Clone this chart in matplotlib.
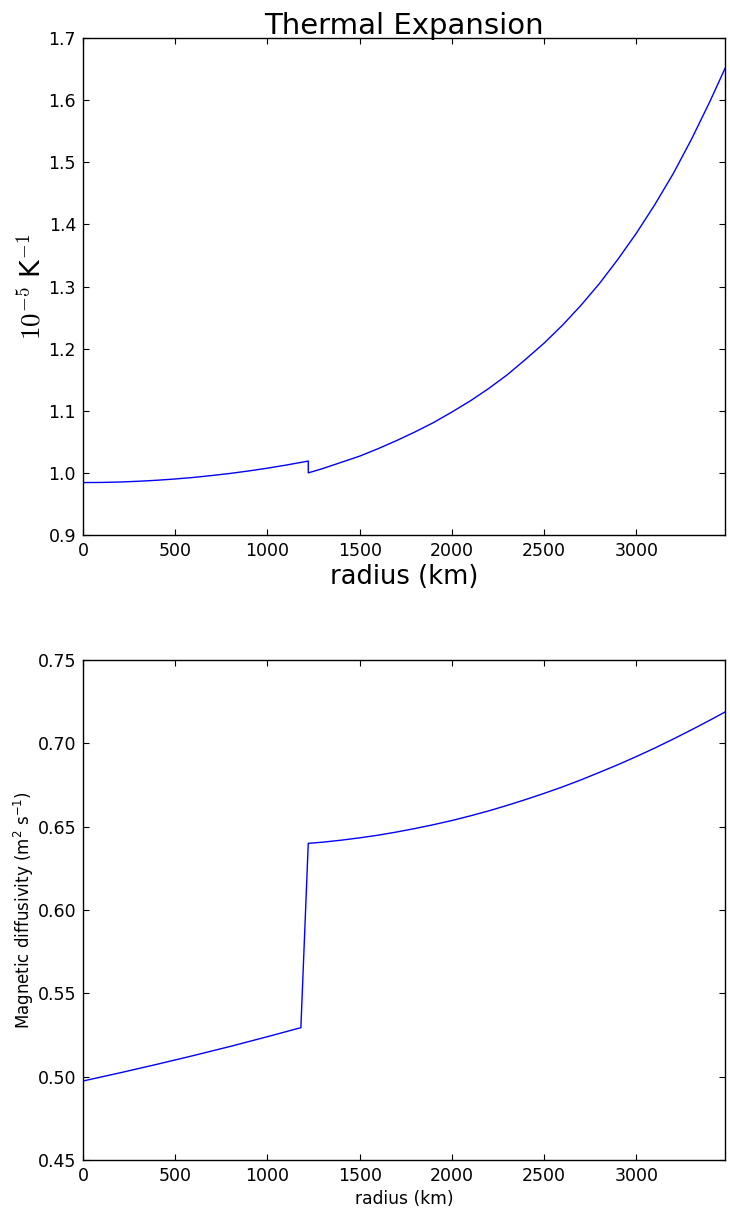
import matplotlib
matplotlib.use("Agg")
import matplotlib.pyplot as plt

# Thermal expansion (1e-5 / K) vs radius (km)
r_alpha_inner = [0, 100, 200, 300, 400, 500, 600, 700, 800, 900, 1000, 1100, 1221]
alpha_inner = [0.9844, 0.9846, 0.9853, 0.9865, 0.9881, 0.9902, 0.9927, 0.9958,
               0.9992, 1.0032, 1.0076, 1.0125, 1.019]
r_alpha_outer = [1221, 1300, 1400, 1500, 1600, 1700, 1800, 1900, 2000, 2100, 2200,
                 2300, 2400, 2500, 2600, 2700, 2800, 2900, 3000, 3100, 3200, 3300,
                 3400, 3480]
alpha_outer = [1.000, 1.007, 1.017, 1.027, 1.039, 1.052, 1.066, 1.081, 1.098, 1.116,
               1.136, 1.158, 1.183, 1.209, 1.238, 1.270, 1.305, 1.344, 1.386, 1.432,
               1.482, 1.538, 1.599, 1.651]

# Magnetic diffusivity (m^2/s) vs radius (km)
r_eta = [0, 200, 400, 600, 800, 1000, 1181, 1221, 1300, 1400, 1500, 1600, 1700,
         1800, 1900, 2000, 2100, 2200, 2300, 2400, 2500, 2600, 2700, 2800, 2900,
         3000, 3100, 3200, 3300, 3400, 3480]
eta = [0.4974, 0.5023, 0.5074, 0.5127, 0.5182, 0.5240, 0.5294, 0.6400, 0.6407,
       0.6419, 0.6433, 0.6449, 0.6468, 0.6489, 0.6512, 0.6537, 0.6565, 0.6595,
       0.6628, 0.6663, 0.6700, 0.6739, 0.6781, 0.6826, 0.6872, 0.6921, 0.6972,
       0.7026, 0.7082, 0.7140, 0.7188]

xticks = [0, 500, 1000, 1500, 2000, 2500, 3000]
yticks_top = [0.9, 1.0, 1.1, 1.2, 1.3, 1.4, 1.5, 1.6, 1.7]
yticks_bot = [0.45, 0.50, 0.55, 0.60, 0.65, 0.70, 0.75]

W, H = 730, 1215
fig = plt.figure(figsize=(W / 100, H / 100), dpi=100)

def px_axes(x0, y0, x1, y1):
    return fig.add_axes([x0 / W, 1 - y1 / H, (x1 - x0) / W, (y1 - y0) / H])

def style(ax):
    ax.tick_params(direction="in", top=True, right=True, length=4.5, width=0.8,
                   labelsize=12.5, pad=5)
    for s in ax.spines.values():
        s.set_linewidth(1.0)

# top panel
ax1 = px_axes(83, 38, 725, 535)
ax1.plot(r_alpha_inner + r_alpha_outer, alpha_inner + alpha_outer,
         color="blue", lw=1.0)
ax1.set_xlim(0, 3480)
ax1.set_ylim(0.9, 1.7)
ax1.set_xticks(xticks)
ax1.set_yticks(yticks_top)
ax1.set_yticklabels([f"{v:.1f}" for v in yticks_top])
style(ax1)
ax1.set_title("Thermal Expansion", fontsize=21, pad=3)
ax1.set_xlabel("radius (km)", fontsize=18.5, labelpad=3)
ax1.set_ylabel(r"$10^{-5}$ K$^{\mathsf{-1}}$", fontsize=19.5, math_fontfamily="cm",
               labelpad=2)

# bottom panel
ax2 = px_axes(83, 660, 725, 1160)
ax2.plot(r_eta, eta, color="blue", lw=1.0)
ax2.set_xlim(0, 3480)
ax2.set_ylim(0.45, 0.75)
ax2.set_xticks(xticks)
ax2.set_yticks(yticks_bot)
ax2.set_yticklabels([f"{v:.2f}" for v in yticks_bot])
style(ax2)
ax2.set_xlabel("radius (km)", fontsize=12.3, labelpad=4)
ax2.set_ylabel(r"Magnetic diffusivity (m$^2$ s$^{-1}$)", fontsize=12, labelpad=1)

fig.savefig("out.png", dpi=100)
